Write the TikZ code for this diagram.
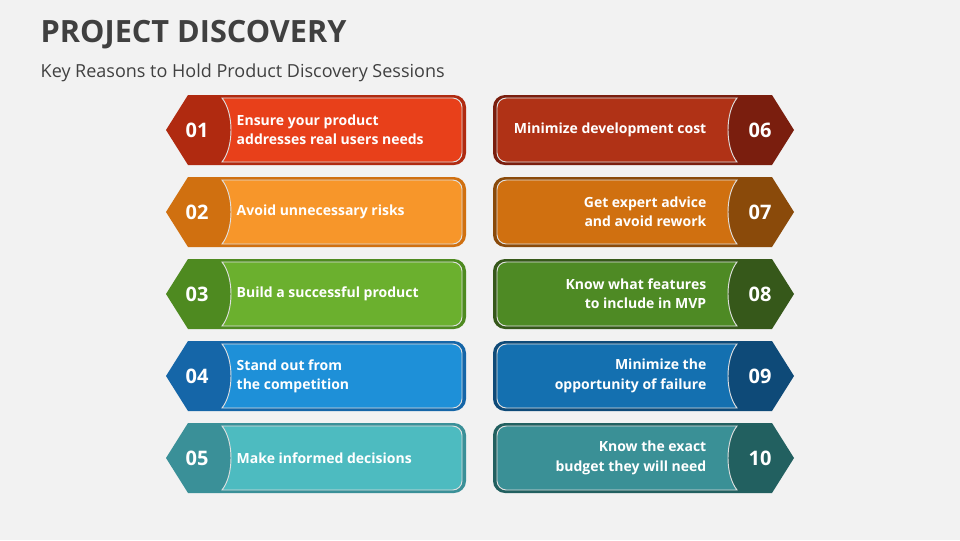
\documentclass[tikz,border=0pt]{standalone}
\usepackage{fontspec}
\setmainfont{Open Sans}
\definecolor{bgc}{HTML}{F2F2F2}
\definecolor{titlec}{HTML}{404040}
\definecolor{dkA}{HTML}{B02A10}\definecolor{ltA}{HTML}{E8401A}
\definecolor{dkB}{HTML}{D07010}\definecolor{ltB}{HTML}{F7962A}
\definecolor{dkC}{HTML}{4E8A20}\definecolor{ltC}{HTML}{6BB02E}
\definecolor{dkD}{HTML}{1566A8}\definecolor{ltD}{HTML}{1E90D8}
\definecolor{dkE}{HTML}{3A9098}\definecolor{ltE}{HTML}{4DBBC0}
\definecolor{dkF}{HTML}{7A1E0E}\definecolor{ltF}{HTML}{B03216}
\definecolor{dkG}{HTML}{8A4A0A}\definecolor{ltG}{HTML}{D07010}
\definecolor{dkH}{HTML}{36581A}\definecolor{ltH}{HTML}{4E8A24}
\definecolor{dkI}{HTML}{0E4A78}\definecolor{ltI}{HTML}{1470B0}
\definecolor{dkJ}{HTML}{226060}\definecolor{ltJ}{HTML}{3A9096}
\tikzset{
  numtext/.style={text=white, font=\fontsize{15}{15}\selectfont\bfseries},
  itemtext/.style={text=white, font=\fontsize{10.5}{14.5}\selectfont\bfseries, align=left, anchor=west},
  itemtextr/.style={text=white, font=\fontsize{10.5}{14.5}\selectfont\bfseries, align=right, anchor=east},
  panelline/.style={draw=white!75!gray, line width=0.7pt}
}
% left item: y, number, text, dark, light
\newcommand{\leftitem}[5]{
  \fill[#4] (166,#1+35) -- (188,#1) [rounded corners=9] -- (466,#1) -- (466,#1+70) [sharp corners] -- (188,#1+70) -- cycle;
  \filldraw[#5, panelline] (222,#1+3) [rounded corners=7] -- (462,#1+3) -- (462,#1+67) [sharp corners] -- (222,#1+67)
    .. controls (234,#1+52) and (234,#1+18) .. (222,#1+3) -- cycle;
  \node[numtext] (num#2) at (197,#1+35) {#2};
  \node[itemtext] (txt#2) at (232,#1+35) {#3};
}
% right item: mirrored
\newcommand{\rightitem}[5]{
  \fill[#4] (794,#1+35) -- (772,#1) [rounded corners=9] -- (493,#1) -- (493,#1+70) [sharp corners] -- (772,#1+70) -- cycle;
  \filldraw[#5, panelline] (737,#1+3) [rounded corners=7] -- (497,#1+3) -- (497,#1+67) [sharp corners] -- (737,#1+67)
    .. controls (725,#1+52) and (725,#1+18) .. (737,#1+3) -- cycle;
  \node[numtext] (num#2) at (760,#1+35) {#2};
  \node[itemtextr] (txt#2) at (711,#1+35) {#3};
}
\begin{document}
\begin{tikzpicture}[x=0.75pt, y=-0.75pt]
  \fill[bgc] (0,0) rectangle (960,540);
  \useasboundingbox (0,0) rectangle (960,540);

  % Title
  \node[anchor=west, text=titlec, font=\fontsize{23}{23}\selectfont\bfseries] (title) at (36,35) {PROJECT DISCOVERY};
  \node[anchor=west, text=titlec, font=\fontsize{13.5}{13.5}\selectfont] (subtitle) at (36,73) {Key Reasons to Hold Product Discovery Sessions};

  % Left column
  \leftitem{95}{01}{Ensure your product\\addresses real users needs}{dkA}{ltA}
  \leftitem{177}{02}{Avoid unnecessary risks}{dkB}{ltB}
  \leftitem{259}{03}{Build a successful product}{dkC}{ltC}
  \leftitem{341}{04}{Stand out from\\the competition}{dkD}{ltD}
  \leftitem{423}{05}{Make informed decisions}{dkE}{ltE}

  % Right column
  \rightitem{95}{06}{Minimize development cost}{dkF}{ltF}
  \rightitem{177}{07}{Get expert advice\\and avoid rework}{dkG}{ltG}
  \rightitem{259}{08}{Know what features\\to include in MVP}{dkH}{ltH}
  \rightitem{341}{09}{Minimize the\\opportunity of failure}{dkI}{ltI}
  \rightitem{423}{10}{Know the exact\\budget they will need}{dkJ}{ltJ}
\end{tikzpicture}
\end{document}
